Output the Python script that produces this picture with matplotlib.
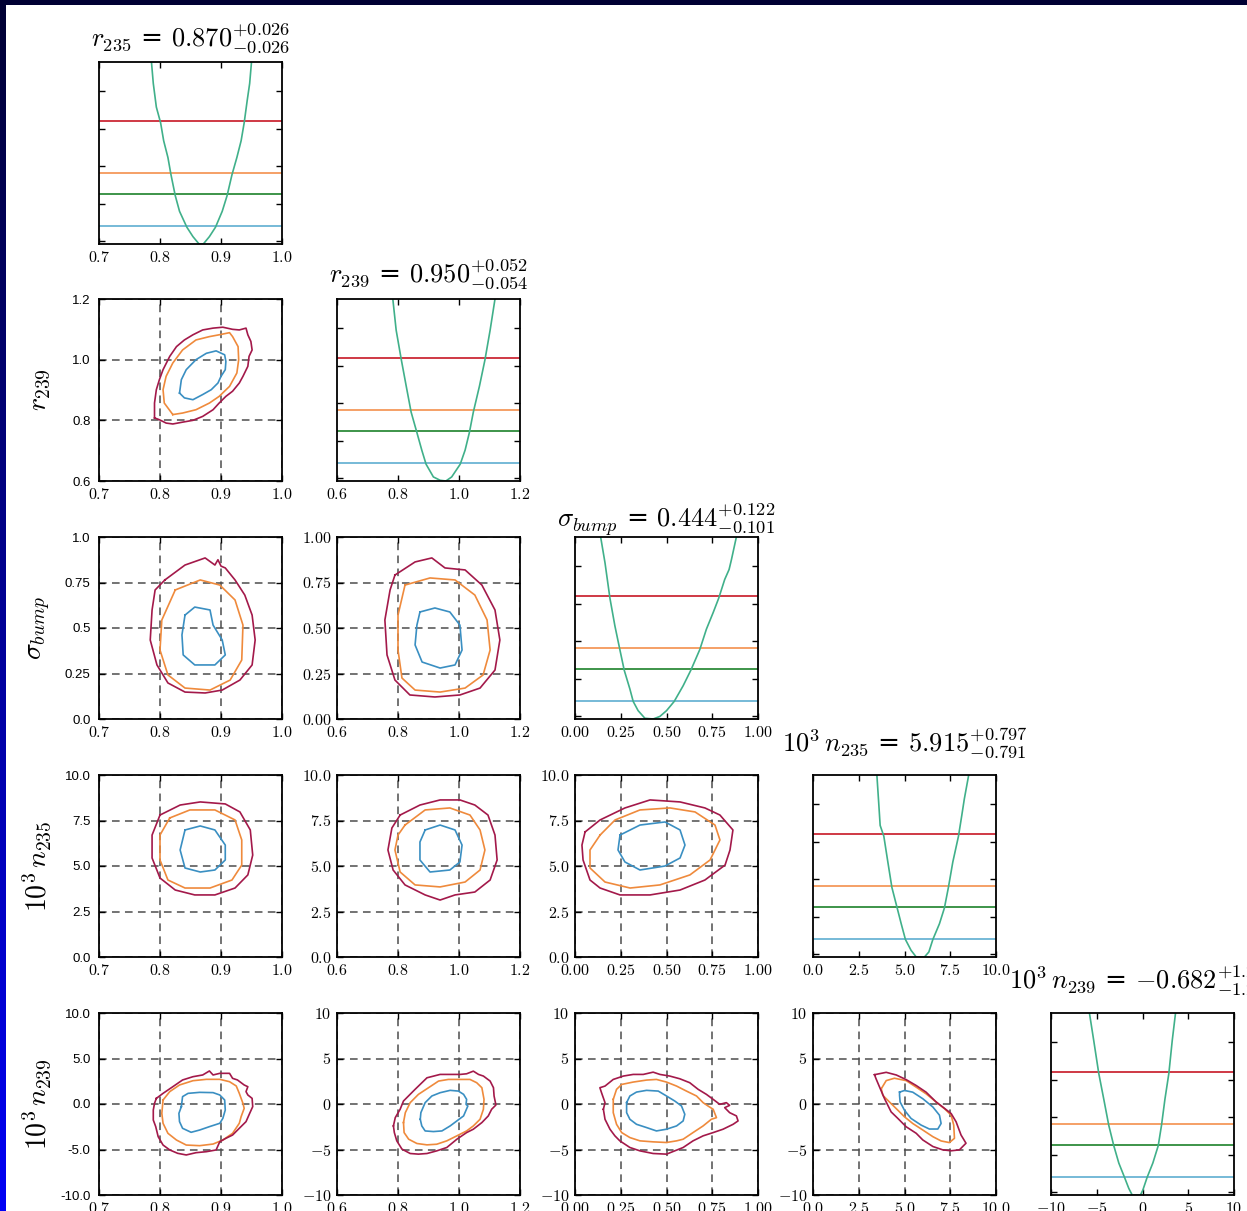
import numpy as np
import matplotlib
matplotlib.use('Agg')
import matplotlib.pyplot as plt
from matplotlib.ticker import FuncFormatter
from matplotlib.patches import Rectangle

plt.rcParams['mathtext.fontset'] = 'cm'
plt.rcParams['font.family'] = ['DejaVu Sans']

# parameters
names = [r'$r_{235}$', r'$r_{239}$', r'$\sigma_{bump}$', r'$10^3\,n_{235}$', r'$10^3\,n_{239}$']
best = ['0.870', '0.950', '0.444', '5.915', '-0.682']
err_up = ['0.026', '0.052', '0.122', '0.797', '1.223']
err_dn = ['0.026', '0.054', '0.101', '0.791', '1.267']
limits = [(0.7, 1.0), (0.6, 1.2), (0.0, 1.0), (0.0, 10.0), (-10.0, 10.0)]
ticks = [[0.7, 0.8, 0.9, 1.0], [0.6, 0.8, 1.0, 1.2], [0.0, 0.25, 0.5, 0.75, 1.0],
         [0.0, 2.5, 5.0, 7.5, 10.0], [-10, -5, 0, 5, 10]]
tick_fmt = ['%.1f', '%.1f', '%.2f', '%.1f', '%d']
first_col_labels = [None,
                    ['0.6', '0.8', '1.0', '1.2'],
                    ['0.0', '0.25', '0.5', '0.75', '1.0'],
                    ['0.0', '2.5', '5.0', '7.5', '10.0'],
                    ['-10.0', '-5.0', '0.0', '5.0', '10.0']]

# 1D profiles (delta chi2)
prof_r235_x = [0.786, 0.789, 0.794, 0.801, 0.806, 0.813, 0.818, 0.825, 0.832, 0.844, 0.854, 0.864, 0.871,
               0.881, 0.891, 0.902, 0.910, 0.918, 0.926, 0.933, 0.938, 0.943, 0.947, 0.950]
prof_r235_y = [9.85, 8.69, 7.41, 6.56, 5.59, 4.68, 3.75, 2.62, 1.77, 0.91, 0.40, 0.0, 0.0,
               0.40, 0.91, 1.77, 2.62, 3.75, 4.68, 5.59, 6.56, 7.78, 8.69, 9.85]
prof_r239_x = [0.783, 0.794, 0.811, 0.827, 0.843, 0.862, 0.878, 0.892, 0.916, 0.938, 0.957,
               0.976, 1.004, 1.020, 1.034, 1.047, 1.067, 1.085, 1.102, 1.118]
prof_r239_y = [9.85, 8.16, 6.55, 5.13, 3.73, 2.62, 1.67, 0.91, 0.22, 0.04, 0.0,
               0.22, 0.91, 1.67, 2.62, 3.73, 5.13, 6.55, 8.16, 9.85]
prof_sig_x = [0.140, 0.164, 0.191, 0.218, 0.245, 0.269, 0.300, 0.318, 0.345, 0.382, 0.427, 0.464, 0.500,
              0.542, 0.591, 0.633, 0.682, 0.718, 0.755, 0.785, 0.818, 0.842, 0.855, 0.882]
prof_sig_y = [9.86, 8.45, 6.53, 5.04, 3.76, 2.64, 1.62, 0.95, 0.45, 0.04, 0.0, 0.14, 0.45,
              0.95, 1.80, 2.64, 3.76, 4.86, 5.76, 6.53, 7.55, 8.09, 8.63, 9.86]
prof_n235_x = [3.49, 3.60, 3.67, 3.87, 4.09, 4.31, 4.60, 4.82, 5.05, 5.36, 5.64, 6.09, 6.33,
               6.55, 6.91, 7.18, 7.40, 7.64, 7.95, 8.13, 8.27, 8.51]
prof_n235_y = [9.86, 8.20, 7.12, 6.54, 5.14, 3.77, 2.65, 1.80, 0.95, 0.36, 0.0, 0.0, 0.27,
               0.95, 1.80, 2.65, 3.77, 5.14, 6.54, 7.66, 8.56, 9.86]
prof_n239_x = [-5.80, -5.33, -4.78, -4.23, -3.69, -3.14, -2.59, -1.97, -1.50, -1.13, -0.22, 0.04,
               0.51, 1.13, 1.72, 2.08, 2.45, 2.88, 3.25, 3.61]
prof_n239_y = [9.85, 8.36, 6.58, 5.18, 3.78, 2.67, 1.73, 0.96, 0.36, 0.0, 0.0, 0.27,
               0.96, 1.73, 2.67, 3.78, 5.18, 6.58, 8.36, 9.85]
profiles = [(prof_r235_x, prof_r235_y), (prof_r239_x, prof_r239_y), (prof_sig_x, prof_sig_y),
            (prof_n235_x, prof_n235_y), (prof_n239_x, prof_n239_y)]

chi2_levels = [1.0, 2.71, 3.84, 6.63]
level_colors = ['#6bb4d4', '#2e8b3a', '#f4995a', '#cc2936']
curve_color = '#40b08a'
contour_colors = ['#3a8fc2', '#ef8a3c', '#a3194a']
title_pads = [11, 12, 6.5, 17, 18]

# 2D contours: (x list, y list) for inner, middle, outer
r239_r235 = [
    ([0.832, 0.835, 0.843, 0.859, 0.876, 0.892, 0.906, 0.908, 0.907, 0.900, 0.895, 0.884, 0.870, 0.854, 0.840, 0.832],
     [0.890, 0.934, 0.967, 1.000, 1.021, 1.029, 1.016, 0.994, 0.967, 0.945, 0.923, 0.901, 0.885, 0.868, 0.874, 0.890]),
    ([0.821, 0.807, 0.805, 0.810, 0.821, 0.837, 0.859, 0.881, 0.897, 0.914, 0.919, 0.928, 0.929, 0.926, 0.914, 0.897, 0.881, 0.859, 0.837, 0.821],
     [0.819, 0.857, 0.901, 0.945, 0.989, 1.032, 1.065, 1.076, 1.082, 1.089, 1.076, 1.043, 1.000, 0.956, 0.912, 0.879, 0.857, 0.835, 0.824, 0.819]),
    ([0.791, 0.791, 0.794, 0.799, 0.805, 0.816, 0.827, 0.840, 0.854, 0.870, 0.887, 0.903, 0.919, 0.930, 0.941, 0.944, 0.949, 0.951, 0.946, 0.944, 0.936, 0.930, 0.919, 0.908, 0.897, 0.887, 0.870, 0.854, 0.837, 0.821, 0.810, 0.799, 0.791],
     [0.808, 0.857, 0.901, 0.934, 0.967, 1.011, 1.043, 1.065, 1.082, 1.098, 1.104, 1.107, 1.100, 1.098, 1.104, 1.082, 1.060, 1.032, 1.011, 0.978, 0.945, 0.923, 0.896, 0.879, 0.857, 0.835, 0.813, 0.800, 0.794, 0.788, 0.791, 0.802, 0.808]),
]
sig_r235 = [
    ([0.841, 0.857, 0.882, 0.887, 0.902, 0.907, 0.890, 0.857, 0.838, 0.836, 0.841],
     [0.571, 0.615, 0.599, 0.516, 0.434, 0.352, 0.297, 0.297, 0.352, 0.462, 0.571]),
    ([0.825, 0.866, 0.898, 0.923, 0.936, 0.934, 0.915, 0.882, 0.841, 0.813, 0.800, 0.803, 0.825],
     [0.709, 0.764, 0.736, 0.654, 0.516, 0.324, 0.214, 0.159, 0.170, 0.242, 0.379, 0.544, 0.709]),
    ([0.808, 0.841, 0.874, 0.890, 0.895, 0.900, 0.907, 0.923, 0.939, 0.951, 0.956, 0.951, 0.931, 0.902, 0.874, 0.841, 0.813, 0.795, 0.784, 0.787, 0.792, 0.808],
     [0.764, 0.846, 0.885, 0.846, 0.875, 0.840, 0.830, 0.764, 0.681, 0.571, 0.434, 0.297, 0.214, 0.159, 0.143, 0.148, 0.198, 0.297, 0.434, 0.599, 0.709, 0.764]),
]
sig_r239 = [
    ([0.872, 0.921, 0.970, 1.003, 1.010, 0.987, 0.938, 0.879, 0.856, 0.862, 0.872],
     [0.588, 0.610, 0.588, 0.516, 0.379, 0.297, 0.280, 0.313, 0.407, 0.516, 0.588]),
    ([0.823, 0.905, 0.987, 1.052, 1.092, 1.102, 1.079, 1.020, 0.938, 0.856, 0.813, 0.800, 0.800, 0.823],
     [0.736, 0.775, 0.764, 0.681, 0.544, 0.379, 0.242, 0.170, 0.148, 0.159, 0.225, 0.379, 0.571, 0.736]),
    ([0.790, 0.856, 0.911, 0.954, 1.020, 1.075, 1.118, 1.134, 1.118, 1.069, 1.003, 0.921, 0.839, 0.790, 0.764, 0.757, 0.774, 0.790],
     [0.791, 0.863, 0.885, 0.830, 0.819, 0.736, 0.599, 0.434, 0.269, 0.170, 0.132, 0.121, 0.132, 0.214, 0.352, 0.544, 0.709, 0.791]),
]
n235_r235 = [
    ([0.841, 0.866, 0.890, 0.907, 0.907, 0.890, 0.866, 0.841, 0.833, 0.841],
     [6.98, 7.20, 6.98, 6.15, 5.33, 4.78, 4.67, 4.89, 5.88, 6.98]),
    ([0.816, 0.849, 0.890, 0.923, 0.934, 0.934, 0.918, 0.882, 0.841, 0.813, 0.800, 0.800, 0.816],
     [7.64, 8.08, 8.08, 7.53, 6.43, 5.05, 4.23, 3.79, 3.79, 4.23, 5.33, 6.70, 7.64]),
    ([0.800, 0.833, 0.866, 0.907, 0.931, 0.948, 0.952, 0.944, 0.923, 0.890, 0.857, 0.825, 0.800, 0.787, 0.787, 0.800],
     [7.80, 8.35, 8.52, 8.41, 7.97, 6.98, 5.60, 4.51, 3.79, 3.41, 3.41, 3.68, 4.34, 5.44, 6.70, 7.80]),
]
n235_r239 = [
    ([0.889, 0.938, 0.987, 1.010, 1.003, 0.970, 0.905, 0.872, 0.872, 0.889],
     [6.98, 7.25, 6.98, 6.15, 5.22, 4.78, 4.67, 5.33, 6.32, 6.98]),
    ([0.823, 0.889, 0.970, 1.036, 1.069, 1.085, 1.069, 1.020, 0.938, 0.856, 0.807, 0.790, 0.800, 0.823],
     [7.25, 8.08, 8.19, 7.80, 6.98, 5.88, 4.78, 4.12, 3.85, 3.96, 4.67, 5.88, 6.70, 7.25]),
    ([0.807, 0.872, 0.938, 1.003, 1.052, 1.095, 1.118, 1.125, 1.102, 1.052, 0.987, 0.938, 0.889, 0.823, 0.784, 0.767, 0.780, 0.807],
     [7.80, 8.35, 8.63, 8.63, 8.35, 7.80, 6.70, 5.33, 4.23, 3.57, 3.41, 3.13, 3.41, 3.96, 4.78, 5.88, 7.09, 7.80]),
]
n235_sig = [
    ([0.246, 0.355, 0.492, 0.574, 0.601, 0.574, 0.492, 0.355, 0.273, 0.235, 0.246],
     [6.70, 7.25, 7.42, 6.98, 6.15, 5.44, 5.00, 4.78, 5.22, 5.88, 6.70]),
    ([0.137, 0.219, 0.355, 0.519, 0.656, 0.765, 0.792, 0.738, 0.628, 0.464, 0.301, 0.164, 0.082, 0.082, 0.137],
     [6.70, 7.53, 8.08, 8.19, 7.97, 7.25, 6.43, 5.33, 4.51, 3.96, 3.79, 4.12, 4.89, 5.88, 6.70]),
    ([0.055, 0.137, 0.273, 0.410, 0.574, 0.710, 0.792, 0.863, 0.847, 0.820, 0.710, 0.574, 0.410, 0.246, 0.137, 0.082, 0.044, 0.038, 0.055],
     [6.87, 7.53, 8.19, 8.63, 8.52, 8.19, 7.80, 6.98, 5.88, 5.05, 4.23, 3.68, 3.41, 3.41, 3.79, 4.23, 5.33, 6.15, 6.87]),
]
n239_r235 = [
    ([0.835, 0.837, 0.846, 0.865, 0.887, 0.898, 0.906, 0.907, 0.903, 0.898, 0.881, 0.865, 0.851, 0.837, 0.832, 0.831, 0.835],
     [-0.29, 0.81, 1.17, 1.28, 1.25, 0.99, 0.44, -0.66, -1.58, -2.12, -2.49, -2.86, -3.11, -2.67, -1.94, -1.03, -0.29]),
    ([0.805, 0.816, 0.832, 0.854, 0.876, 0.898, 0.914, 0.925, 0.930, 0.936, 0.938, 0.933, 0.930, 0.919, 0.903, 0.887, 0.865, 0.843, 0.827, 0.813, 0.805, 0.803, 0.804, 0.805],
     [0.44, 1.36, 2.09, 2.56, 2.71, 2.71, 2.45, 1.98, 1.17, 0.07, -0.48, -1.39, -2.12, -3.22, -3.96, -4.40, -4.58, -4.51, -3.96, -3.22, -2.12, -1.03, -0.29, 0.44]),
    ([0.794, 0.805, 0.821, 0.837, 0.854, 0.870, 0.881, 0.887, 0.898, 0.914, 0.919, 0.927, 0.938, 0.944, 0.941, 0.944, 0.951, 0.952, 0.947, 0.941, 0.930, 0.919, 0.908, 0.898, 0.892, 0.876, 0.859, 0.843, 0.829, 0.816, 0.805, 0.797, 0.793, 0.789, 0.789, 0.791, 0.794],
     [0.62, 1.17, 1.90, 2.64, 3.00, 3.19, 3.63, 3.19, 3.37, 3.37, 2.82, 2.64, 2.09, 1.90, 1.36, 0.99, 0.62, -0.29, -1.03, -1.94, -2.67, -3.41, -3.77, -4.14, -5.05, -5.24, -5.35, -5.60, -5.42, -5.05, -4.51, -3.59, -2.49, -1.76, -0.66, 0.07, 0.62]),
]
n239_r239 = [
    ([0.873, 0.875, 0.889, 0.911, 0.938, 0.971, 0.998, 1.015, 1.025, 1.023, 1.029, 1.015, 0.993, 0.971, 0.944, 0.916, 0.889, 0.878, 0.873],
     [-1.68, -0.95, 0.15, 0.88, 1.24, 1.50, 1.42, 1.06, 0.51, -0.04, -0.22, -1.31, -1.86, -2.41, -2.96, -3.03, -2.96, -2.41, -1.68]),
    ([0.818, 0.824, 0.840, 0.867, 0.900, 0.933, 0.965, 1.004, 1.036, 1.058, 1.075, 1.082, 1.080, 1.069, 1.047, 1.025, 0.993, 0.960, 0.927, 0.895, 0.862, 0.835, 0.820, 0.818],
     [-2.04, -0.95, 0.15, 1.06, 1.79, 2.52, 2.70, 2.70, 2.70, 2.34, 1.79, 0.51, -0.58, -1.68, -2.41, -2.96, -3.50, -4.05, -4.42, -4.49, -4.34, -3.87, -3.14, -2.04]),
    ([0.785, 0.791, 0.807, 0.818, 0.856, 0.895, 0.938, 0.971, 1.004, 1.025, 1.047, 1.064, 1.080, 1.102, 1.113, 1.115, 1.121, 1.107, 1.096, 1.075, 1.047, 1.025, 0.993, 0.960, 0.927, 0.895, 0.867, 0.840, 0.813, 0.796, 0.788, 0.785],
     [-2.41, -1.50, -0.58, 0.33, 1.61, 2.88, 3.25, 3.25, 3.25, 3.32, 3.61, 3.25, 3.07, 2.52, 1.79, 0.88, -0.11, -0.58, -1.31, -2.04, -2.77, -3.14, -3.87, -4.78, -5.15, -5.44, -5.51, -5.44, -4.96, -4.05, -3.14, -2.41]),
]
n239_sig = [
    ([0.282, 0.300, 0.336, 0.391, 0.455, 0.500, 0.545, 0.582, 0.600, 0.591, 0.555, 0.500, 0.445, 0.391, 0.336, 0.300, 0.282, 0.282],
     [0.15, 0.88, 1.31, 1.50, 1.42, 0.88, 0.33, -0.22, -1.13, -1.86, -2.41, -2.77, -2.96, -2.59, -2.23, -1.68, -0.95, 0.15]),
    ([0.209, 0.227, 0.255, 0.318, 0.391, 0.445, 0.500, 0.555, 0.609, 0.664, 0.700, 0.727, 0.755, 0.773, 0.745, 0.700, 0.645, 0.591, 0.555, 0.500, 0.427, 0.355, 0.300, 0.255, 0.227, 0.209, 0.209],
     [0.51, 1.61, 2.15, 2.41, 2.63, 2.70, 2.41, 1.97, 1.42, 0.88, 0.15, -0.22, -0.58, -1.50, -1.68, -2.41, -3.14, -3.87, -4.05, -4.23, -4.16, -4.05, -3.69, -3.14, -2.23, -0.95, 0.51]),
    ([0.155, 0.164, 0.145, 0.136, 0.164, 0.209, 0.264, 0.318, 0.373, 0.427, 0.464, 0.518, 0.573, 0.627, 0.673, 0.718, 0.755, 0.791, 0.827, 0.845, 0.818, 0.845, 0.882, 0.891, 0.864, 0.809, 0.755, 0.700, 0.645, 0.591, 0.500, 0.427, 0.355, 0.300, 0.245, 0.218, 0.191, 0.164, 0.155],
     [-0.58, 0.15, 1.24, 1.79, 1.97, 2.70, 3.07, 3.25, 3.25, 3.50, 3.25, 3.07, 2.77, 2.34, 1.61, 1.06, 0.51, -0.04, 0.15, -0.15, -0.40, -0.95, -1.31, -1.86, -2.23, -2.77, -3.14, -3.50, -4.05, -4.78, -5.51, -5.44, -5.15, -4.78, -4.05, -3.50, -2.77, -1.68, -0.58]),
]
n239_n235 = [
    ([4.73, 5.00, 5.45, 6.00, 6.55, 6.91, 7.00, 6.82, 6.36, 5.91, 5.36, 5.00, 4.76, 4.73, 4.73],
     [1.30, 1.49, 1.30, 0.58, -0.33, -1.23, -2.14, -2.75, -2.75, -2.32, -1.59, -0.69, 0.22, 0.94, 1.30]),
    ([3.73, 4.00, 4.45, 5.09, 5.64, 6.18, 6.73, 7.18, 7.55, 7.69, 7.73, 7.45, 7.00, 6.55, 6.00, 5.45, 5.00, 4.55, 4.18, 3.82, 3.73],
     [1.67, 2.57, 2.83, 2.57, 1.85, 1.12, 0.22, -0.51, -1.23, -2.32, -3.77, -4.24, -4.06, -3.59, -2.86, -2.14, -1.41, -0.51, 0.22, 0.94, 1.67]),
    ([3.36, 4.00, 4.55, 5.09, 5.64, 6.18, 6.73, 7.09, 7.55, 7.82, 8.09, 8.36, 8.00, 7.55, 7.09, 6.55, 6.00, 5.64, 5.09, 4.64, 4.27, 3.91, 3.64, 3.45, 3.36],
     [3.22, 3.48, 3.19, 2.68, 2.03, 1.30, 0.22, -0.33, -1.05, -1.96, -3.41, -4.31, -5.04, -5.14, -5.04, -4.67, -3.95, -3.22, -2.50, -1.59, -0.87, 0.58, 1.85, 2.75, 3.22]),
]
contours = {(1, 0): r239_r235, (2, 0): sig_r235, (2, 1): sig_r239,
            (3, 0): n235_r235, (3, 1): n235_r239, (3, 2): n235_sig,
            (4, 0): n239_r235, (4, 1): n239_r239, (4, 2): n239_sig, (4, 3): n239_n235}

W, H = 1247, 1211
fig = plt.figure(figsize=(W / 100, H / 100), dpi=100)
fig.patch.set_facecolor('white')

lefts = [99, 337, 575, 813, 1051]
tops = [62, 299, 537, 775, 1013]
aw, ah = 183, 182


def fmt(f):
    return FuncFormatter(lambda v, p: '$' + (f % v) + '$')


for i in range(5):
    for j in range(i + 1):
        ax = fig.add_axes([lefts[j] / W, (H - tops[i] - ah) / H, aw / W, ah / H])
        for s in ax.spines.values():
            s.set_linewidth(1.3)
        ax.tick_params(direction='in', top=True, right=True, length=4, width=1, labelsize=11.5, pad=4)
        ax.set_xlim(*limits[j])
        ax.set_xticks(ticks[j])
        ax.xaxis.set_major_formatter(fmt(tick_fmt[j]))
        if i == j:
            px, py = profiles[i]
            for lev, c in zip(chi2_levels, level_colors):
                ax.axhline(lev, color=c, lw=1.3)
            ax.plot(px, py, color=curve_color, lw=1.2)
            ax.set_ylim(0, 9.85)
            ax.set_yticks(np.arange(0.15, 9.85, 2.03))
            ax.tick_params(labelleft=False)
            ax.set_title(names[i] + ' = ' + r'$%s^{+%s}_{-%s}$' % (best[i], err_up[i], err_dn[i]),
                         fontsize=19, pad=title_pads[i])
        else:
            for (cx, cy), c in zip(contours[(i, j)], contour_colors):
                ax.plot(cx, cy, color=c, lw=1.2)
            ax.set_ylim(*limits[i])
            ax.set_yticks(ticks[i])
            ax.grid(True, ls=(0, (5, 3.5)), color='#4d4d4d', lw=1.1)
            if j == 0:
                ax.set_yticklabels(first_col_labels[i], fontfamily='Liberation Sans', fontsize=9.5)
                ax.tick_params(axis='y', pad=6)
                ax.set_ylabel(names[i], fontsize=20)
                ax.yaxis.set_label_coords(-0.25, 0.5)
            else:
                ax.yaxis.set_major_formatter(fmt(tick_fmt[i]))

# slide border
grad = np.linspace(0, 1, 256).reshape(-1, 1)
bax = fig.add_axes([0, 0, 6 / W, 1])
bax.imshow(grad, aspect='auto', cmap=matplotlib.colors.LinearSegmentedColormap.from_list('b', ['#000033', '#0000f5']))
bax.axis('off')
fig.add_artist(Rectangle((0, 1 - 5 / H), 1, 5 / H, transform=fig.transFigure, color='#000033', lw=0))

fig.savefig('out.png', dpi=100)
